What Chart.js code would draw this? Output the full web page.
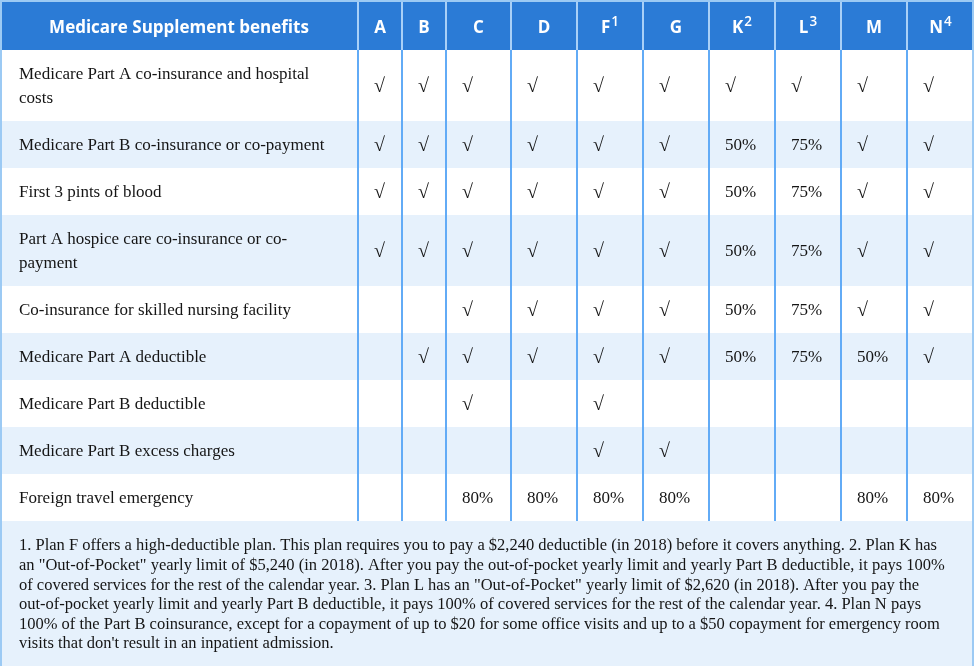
<script src="https://cdn.jsdelivr.net/npm/chart.js"></script>
<style>
  body { margin: 0; background: #fff; }
</style>
<canvas id="myChart" width="974" height="666"></canvas>
<script>

    const plans = ['A', 'B', 'C', 'D', 'F', 'G', 'K', 'L', 'M', 'N'];
    const planNotes = ['', '', '', '', '1', '', '2', '3', '', '4'];

    const benefits = [
        ['Medicare Part A co-insurance and hospital', 'costs'],
        ['Medicare Part B co-insurance or co-payment'],
        ['First 3 pints of blood'],
        ['Part A hospice care co-insurance or co-', 'payment'],
        ['Co-insurance for skilled nursing facility'],
        ['Medicare Part A deductible'],
        ['Medicare Part B deductible'],
        ['Medicare Part B excess charges'],
        ['Foreign travel emergency']
    ];

    const Y = '√';
    const partAHospital   = [Y, Y, Y, Y, Y, Y, Y, Y, Y, Y];
    const partBCoins      = [Y, Y, Y, Y, Y, Y, '50%', '75%', Y, Y];
    const bloodPints      = [Y, Y, Y, Y, Y, Y, '50%', '75%', Y, Y];
    const hospiceCare     = [Y, Y, Y, Y, Y, Y, '50%', '75%', Y, Y];
    const nursingFacility = ['', '', Y, Y, Y, Y, '50%', '75%', Y, Y];
    const partADeductible = ['', Y, Y, Y, Y, Y, '50%', '75%', '50%', Y];
    const partBDeductible = ['', '', Y, '', Y, '', '', '', '', ''];
    const excessCharges   = ['', '', '', '', Y, Y, '', '', '', ''];
    const foreignTravel   = ['', '', '80%', '80%', '80%', '80%', '', '', '80%', '80%'];

    const coverage = [partAHospital, partBCoins, bloodPints, hospiceCare, nursingFacility,
                      partADeductible, partBDeductible, excessCharges, foreignTravel];

    const footnote = [
        '1. Plan F offers a high-deductible plan. This plan requires you to pay a $2,240 deductible (in 2018) before it covers anything. 2. Plan K has',
        'an "Out-of-Pocket" yearly limit of $5,240 (in 2018). After you pay the out-of-pocket yearly limit and yearly Part B deductible, it pays 100%',
        'of covered services for the rest of the calendar year. 3. Plan L has an "Out-of-Pocket" yearly limit of $2,620 (in 2018). After you pay the',
        'out-of-pocket yearly limit and yearly Part B deductible, it pays 100% of covered services for the rest of the calendar year. 4. Plan N pays',
        '100% of the Part B coinsurance, except for a copayment of up to $20 for some office visits and up to a $50 copayment for emergency room',
        "visits that don't result in an inpatient admission."
    ];

    // layout (px units of the hidden linear scales)
    const W = 974, H = 666;
    const colWidths = [358, 44, 44, 65, 66, 66, 66, 66, 66, 66, 67];
    const headerH = 50, lineH = 24, noteLineH = 19.6, rowPad = 23, cellPad = 16;

    const headerBlue = '#2b7bd6';
    const stripe = '#e6f1fc';
    const gridBlue = '#62abf6';
    const edgeBlue = '#9ccaf4';
    const bodyFont = '17px "Liberation Serif", "Times New Roman", serif';
    const checkFont = '20px "Liberation Serif", "Times New Roman", serif';
    const noteFont = '16.5px "Liberation Serif", "Times New Roman", serif';
    const headFont = 'bold 17px "Open Sans", "Noto Sans", sans-serif';
    const supFont = '600 13.5px "Open Sans", "Noto Sans", sans-serif';

    const table = {
        id: 'table',
        beforeDatasetsDraw(chart) {
            const {ctx, scales: {x, y}} = chart;
            const px = v => x.getPixelForValue(v);
            const py = v => y.getPixelForValue(v);

            const edges = [0];
            colWidths.forEach(w => edges.push(edges[edges.length - 1] + w));
            const tops = [headerH];
            benefits.forEach(b => tops.push(tops[tops.length - 1] + rowPad + lineH * b.length));
            const bottom = tops[tops.length - 1];

            ctx.save();

            // header band
            ctx.fillStyle = headerBlue;
            ctx.fillRect(px(0), py(0), px(W) - px(0), py(headerH) - py(0));

            // row stripes
            benefits.forEach((b, i) => {
                ctx.fillStyle = i % 2 ? stripe : '#ffffff';
                ctx.fillRect(px(0), py(tops[i]), px(W) - px(0), py(tops[i + 1]) - py(tops[i]));
            });

            // footnote band
            ctx.fillStyle = stripe;
            ctx.fillRect(px(0), py(bottom), px(W) - px(0), py(H) - py(bottom));

            // column lines
            for (let c = 1; c < edges.length - 1; c++) {
                ctx.fillStyle = '#a9d0f7';
                ctx.fillRect(px(edges[c]) - 1, py(0), 2, py(headerH) - py(0));
                ctx.fillStyle = gridBlue;
                ctx.fillRect(px(edges[c]) - 1, py(headerH), 2, py(bottom) - py(headerH));
            }

            // outer edges
            ctx.fillStyle = edgeBlue;
            ctx.fillRect(px(0), py(0), px(W) - px(0), 2);
            ctx.fillRect(px(0), py(0), 2, py(H) - py(0));
            ctx.fillRect(px(W) - 2, py(0), 2, py(H) - py(0));

            // header text
            ctx.fillStyle = '#ffffff';
            ctx.textBaseline = 'middle';
            ctx.font = headFont;
            ctx.textAlign = 'center';
            const hy = py(headerH / 2 + 3);
            ctx.fillText('Medicare Supplement benefits', px(edges[1] / 2), hy);
            plans.forEach((p, i) => {
                const cx = px((edges[i + 1] + edges[i + 2]) / 2);
                ctx.font = headFont;
                const w1 = ctx.measureText(p).width;
                ctx.font = supFont;
                const w2 = planNotes[i] ? ctx.measureText(planNotes[i]).width + 1 : 0;
                const left = cx - (w1 + w2) / 2;
                ctx.textAlign = 'left';
                ctx.font = headFont;
                ctx.fillText(p, left, hy);
                if (planNotes[i]) {
                    ctx.font = supFont;
                    ctx.fillText(planNotes[i], left + w1 + 1, hy - 6);
                }
            });

            // body text
            ctx.fillStyle = '#151515';
            ctx.textAlign = 'left';
            benefits.forEach((lines, r) => {
                const mid = (tops[r] + tops[r + 1]) / 2;
                ctx.font = bodyFont;
                lines.forEach((t, k) => {
                    const ly = mid + (k - (lines.length - 1) / 2) * lineH;
                    ctx.fillText(t, px(19), py(ly + 1));
                });
                coverage[r].forEach((v, c) => {
                    if (!v) return;
                    ctx.font = v === Y ? checkFont : bodyFont;
                    ctx.fillText(v, px(edges[c + 1] + cellPad), py(mid + 1));
                });
            });

            // footnote
            ctx.font = noteFont;
            footnote.forEach((t, k) => {
                ctx.fillText(t, px(19), py(bottom + 25 + k * noteLineH));
            });

            ctx.restore();
        }
    };

    const config = {
        type: 'scatter',
        data: { datasets: [{ data: [] }] },
        options: {
            responsive: false,
            animation: false,
            events: [],
            layout: { padding: 0 },
            plugins: {
                legend: { display: false },
                tooltip: { enabled: false }
            },
            scales: {
                x: { type: 'linear', min: 0, max: W, display: false },
                y: { type: 'linear', min: 0, max: H, reverse: true, display: false }
            }
        },
        plugins: [table]
    };

    const myChart = new Chart(document.getElementById('myChart'), config);
</script>
